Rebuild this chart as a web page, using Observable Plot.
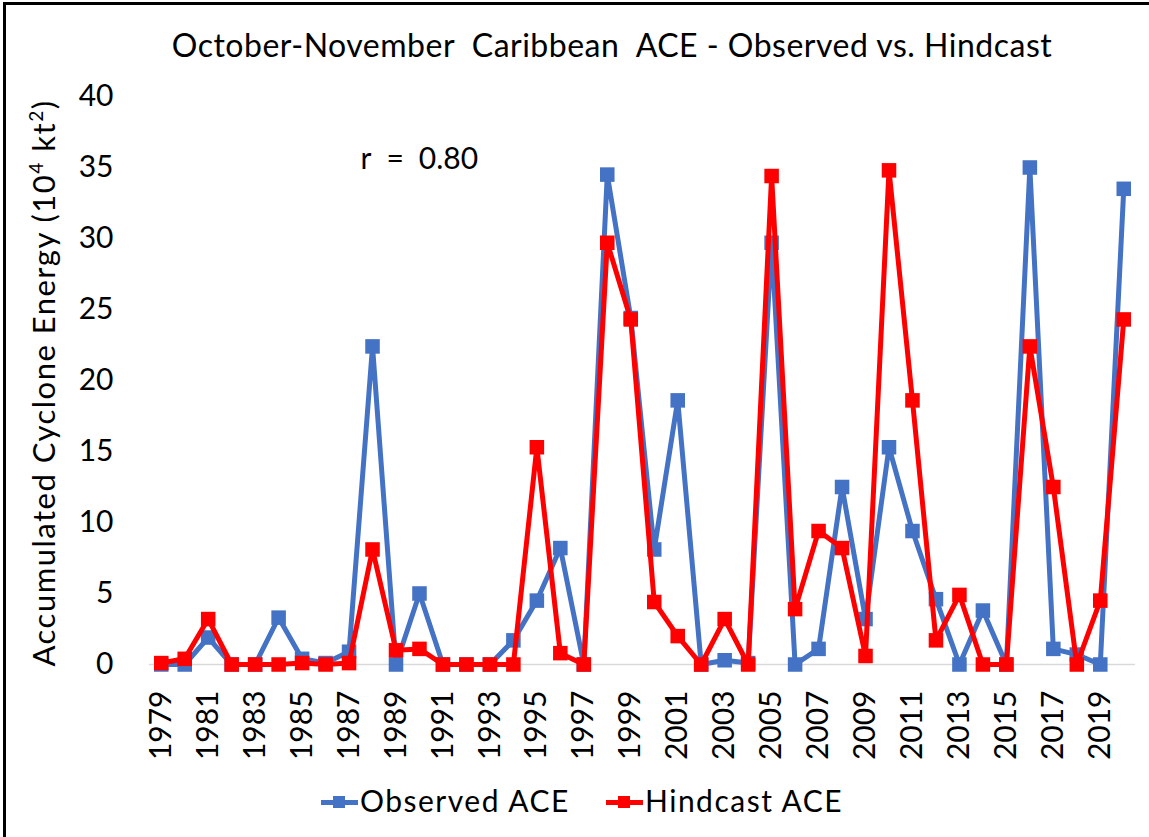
<!DOCTYPE html>
<html>
<head>
<meta charset="utf-8">
<script src="https://cdn.jsdelivr.net/npm/d3@7"></script>
<script src="https://cdn.jsdelivr.net/npm/@observablehq/plot@0.6"></script>
<style>
  html, body { margin: 0; padding: 0; background: #fff; }
  #fig { position: relative; width: 1149px; height: 837px; overflow: hidden; background: #fff; font-family: Lato, "Open Sans", sans-serif; color: #000; }
  #frame { position: absolute; left: 3px; top: 2px; width: 1200px; height: 900px; border-left: 3px solid #000; border-top: 3px solid #000; pointer-events: none; }
  #title { position: absolute; left: 612px; top: 29px; transform: translateX(-50%); white-space: nowrap; font-size: 32px; line-height: 32px; letter-spacing: 0.5px; }
  #ylabel { position: absolute; left: 0; top: 0; white-space: nowrap; font-size: 31px; line-height: 31px; letter-spacing: 1.5px; transform-origin: 0 0; transform: translate(28px, 383px) rotate(-90deg) translateX(-50%); }
  #ylabel .sup { font-size: 19px; position: relative; top: -12px; }
  #chart { position: absolute; left: 0; top: 80px; }
  .leg { position: absolute; top: 785px; font-size: 30px; line-height: 30px; white-space: nowrap; letter-spacing: 1.5px; }
  .legline { position: absolute; height: 5px; top: 800px; width: 37px; }
  .legsq { position: absolute; width: 12px; height: 12px; top: 796px; }
</style>
</head>
<body>
<div id="fig">
  <div id="title">October-November&nbsp; Caribbean&nbsp; ACE - Observed vs. Hindcast</div>
  <div id="ylabel">Accumulated Cyclone Energy (10<span class="sup">4</span> kt<span class="sup">2</span>)</div>
  <div id="chart"></div>
  <div class="legline" style="left:321px;background:#4472C4"></div>
  <div class="legsq" style="left:333px;background:#4472C4"></div>
  <div class="leg" style="left:360px">Observed ACE</div>
  <div class="legline" style="left:606px;background:#FF0000"></div>
  <div class="legsq" style="left:618px;background:#FF0000"></div>
  <div class="leg" style="left:645px">Hindcast ACE</div>
  <div id="frame"></div>
</div>
<script>
const years = [1979,1980,1981,1982,1983,1984,1985,1986,1987,1988,1989,1990,1991,1992,1993,1994,1995,1996,1997,1998,1999,2000,2001,2002,2003,2004,2005,2006,2007,2008,2009,2010,2011,2012,2013,2014,2015,2016,2017,2018,2019,2020];
const observedACE = [0,0,1.9,0,0,3.3,0.4,0.1,0.9,22.4,0,5.0,0,0,0,1.7,4.5,8.2,0,34.5,24.4,8.1,18.6,0,0.3,0.1,29.7,0,1.1,12.5,3.2,15.3,9.4,4.6,0,3.8,0,35.0,1.1,0.7,0,33.5];
const hindcastACE = [0.1,0.4,3.2,0,0,0,0.1,0,0.1,8.1,1.0,1.1,0,0,0,0,15.3,0.8,0,29.7,24.3,4.4,2.0,0,3.2,0,34.4,3.9,9.4,8.2,0.6,34.8,18.6,1.7,4.9,0,0,22.4,12.5,0,4.5,24.3];
const xTickYears = [1979,1981,1983,1985,1987,1989,1991,1993,1995,1997,1999,2001,2003,2005,2007,2009,2011,2013,2015,2017,2019];
const yTicks = [0,5,10,15,20,25,30,35,40];
const annotation = ["r\u2002=\u20020.80"];

const obs = years.map((year, i) => ({year, value: observedACE[i]}));
const hind = years.map((year, i) => ({year, value: hindcastACE[i]}));

const blue = "#4472C4", red = "#FF0000";

const chart = Plot.plot({
  width: 1149,
  height: 700,
  marginLeft: 149,
  marginRight: 14,
  marginTop: 16,
  marginBottom: 116,
  style: { fontFamily: "Lato, 'Open Sans', sans-serif", fontSize: "30px", color: "#000", background: "transparent", overflow: "visible" },
  x: { domain: [1978.5, 2020.5], ticks: xTickYears, tickFormat: d => String(d), tickSize: 0, tickPadding: 26, tickRotate: -90, label: null },
  y: { domain: [0, 40], ticks: yTicks, tickSize: 0, tickPadding: 36, label: null },
  marks: [
    Plot.ruleY([0], { stroke: "#d9d9d9", strokeWidth: 1.5 }),
    Plot.line(obs, { x: "year", y: "value", stroke: blue, strokeWidth: 5, strokeLinejoin: "round" }),
    Plot.dot(obs, { x: "year", y: "value", symbol: "square", r: 8.2, fill: blue }),
    Plot.line(hind, { x: "year", y: "value", stroke: red, strokeWidth: 5, strokeLinejoin: "round" }),
    Plot.dot(hind, { x: "year", y: "value", symbol: "square", r: 8.2, fill: red }),
    Plot.text(annotation, { text: d => d, frameAnchor: "top-left", textAnchor: "start", dx: 211, dy: 51, fontSize: 30, fill: "#000" })
  ]
});
document.getElementById("chart").appendChild(chart);
</script>
</body>
</html>
